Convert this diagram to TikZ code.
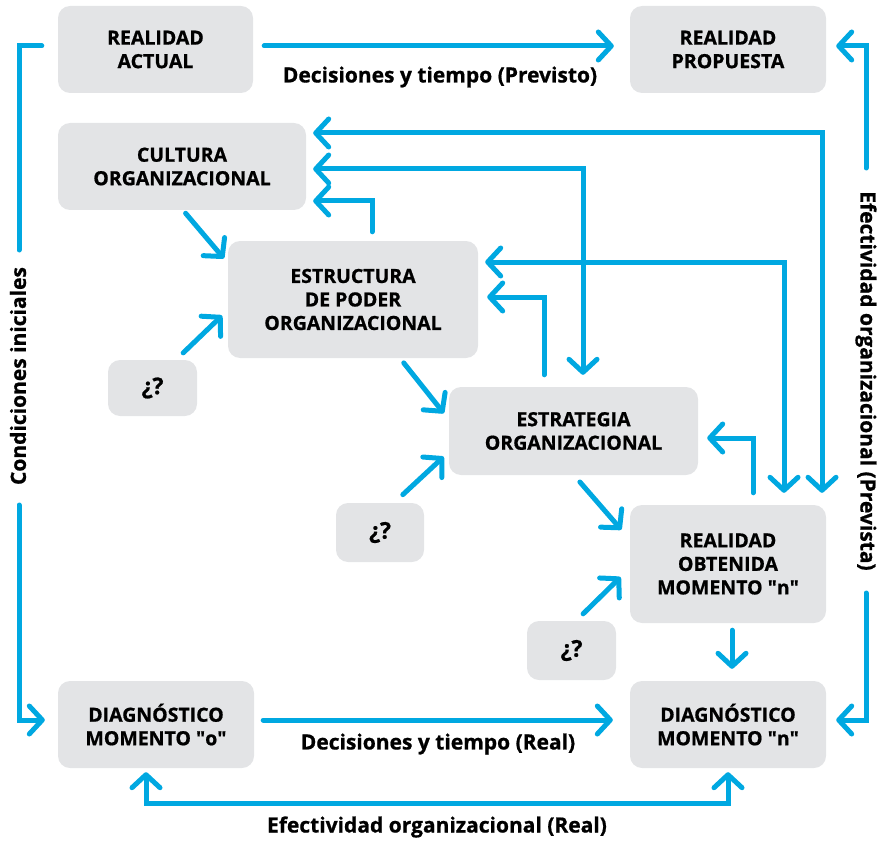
\documentclass[tikz,border=0pt]{standalone}
\usepackage{fontspec}
\setmainfont{Open Sans}[BoldFeatures={FakeBold=0.8}]
\usetikzlibrary{arrows.meta}
\definecolor{flowc}{HTML}{00A8E1}
\definecolor{boxgray}{HTML}{E3E4E6}
\newcommand{\dq}{\textquotedbl}

\begin{document}
\begin{tikzpicture}[x=1pt,y=-1pt,
  box/.style={fill=boxgray, rounded corners=12pt, inner sep=0pt, align=center,
    font=\fontsize{19.5}{23.5}\selectfont\bfseries},
  qbox/.style={box, font=\fontsize{23}{26}\selectfont\bfseries},
  lbl/.style={font=\fontsize{21}{24}\selectfont\bfseries, inner sep=0pt},
  flow/.style={draw=flowc, line width=5pt, line cap=round, line join=miter},
  arr/.style={flow, -{Straight Barb[length=13pt,width=28pt,round]}},
  biarr/.style={flow, {Straight Barb[length=13pt,width=28pt,round]}-{Straight Barb[length=13pt,width=28pt,round]}}]

\useasboundingbox (0,0) rectangle (877,842);

% boxes
\node[box, minimum width=195pt, minimum height=87pt] (ra) at (155.5,49.5) {REALIDAD\\ACTUAL};
\node[box, minimum width=196pt, minimum height=87pt] (rp) at (728,49.5) {REALIDAD\\PROPUESTA};
\node[box, minimum width=248pt, minimum height=87pt] (cult) at (182,166.5) {CULTURA\\ORGANIZACIONAL};
\node[box, minimum width=250pt, minimum height=117pt] (estr) at (353,299.5) {ESTRUCTURA\\DE PODER\\ORGANIZACIONAL};
\node[qbox, minimum width=89pt, minimum height=56pt] (q1) at (152.5,388) {¿?};
\node[box, minimum width=249pt, minimum height=88pt] (estg) at (573.5,431) {ESTRATEGIA\\ORGANIZACIONAL};
\node[qbox, minimum width=88pt, minimum height=59pt] (q2) at (380,532.5) {¿?};
\node[box, minimum width=196pt, minimum height=118pt] (ro) at (728,564) {REALIDAD\\OBTENIDA\\MOMENTO \dq n\dq};
\node[qbox, minimum width=89pt, minimum height=59pt] (q3) at (571.5,650.5) {¿?};
\node[box, minimum width=196pt, minimum height=87pt] (d0) at (156,724.5) {DIAGNÓSTICO\\MOMENTO \dq o\dq};
\node[box, minimum width=196pt, minimum height=87pt] (dn) at (728,724.5) {DIAGNÓSTICO\\MOMENTO \dq n\dq};

% labels
\node[lbl] (lprev) at (440,77) {Decisiones y tiempo (Previsto)};
\node[lbl] (lreal) at (438,744) {Decisiones y tiempo (Real)};
\node[lbl] (lefr) at (437,827) {Efectividad organizacional (Real)};
\node[lbl, rotate=90] (lcond) at (18,376) {Condiciones iniciales};
\node[lbl, rotate=-90] (lefp) at (866,381) {Efectividad organizacional (Prevista)};

% planned and real decision flows
\draw[arr, shorten <=11pt, shorten >=16pt] (ra.east |- 0,46) -- (rp.west |- 0,46);
\draw[arr, shorten <=9pt, shorten >=17pt] (d0.east |- 0,720) -- (dn.west |- 0,720);

% initial conditions
\draw[flow, shorten <=16pt] (ra.west |- 0,46) -- (19,46) -- (19,250);
\draw[arr, shorten >=13pt] (19,505) -- (19,720) -- (d0.west |- 0,720);

% planned effectiveness
\draw[arr, shorten >=10pt] (866,168) -- (866,46) -- (rp.east |- 0,46);
\draw[arr, shorten >=10pt] (866,593) -- (866,720) -- (dn.east |- 0,720);

% real effectiveness
\draw[biarr, shorten <=4pt, shorten >=4pt] (d0.south -| 146,0) -- (146,803) -- (728,803) -- (dn.south);

% obtained reality to diagnosis
\draw[arr, shorten <=7pt, shorten >=12pt] (ro.south -| 732,0) -- (dn.north -| 732,0);

% feedback loops
\draw[biarr, shorten <=7pt, shorten >=12pt] (cult.east |- 0,133) -- (822,133) -- (ro.north -| 822,0);
\draw[biarr, shorten <=7pt, shorten >=12pt] (cult.east |- 0,169) -- (583,169) -- (estg.north -| 583,0);
\draw[arr, shorten <=9pt, shorten >=7pt] (estr.north -| 372,0) -- (372,201) -- (cult.east |- 0,201);
\draw[biarr, shorten <=7pt, shorten >=12pt] (estr.east |- 0,262) -- (784,262) -- (ro.north -| 784,0);
\draw[arr, shorten <=12pt, shorten >=9pt] (estg.north -| 544,0) -- (544,297) -- (estr.east |- 0,297);
\draw[arr, shorten <=12pt, shorten >=9pt] (ro.north -| 753,0) -- (753,438) -- (estg.east |- 0,438);

% diagonal influences
\draw[arr, shorten <=4pt, shorten >=6pt] (cult.south -| 183,0) -- (estr.west |- 0,263);
\draw[arr, shorten <=10pt, shorten >=8pt] (q1.north -| 176,0) -- (estr.west |- 0,310);
\draw[arr, shorten <=6pt, shorten >=8pt] (estr.south -| 400,0) -- (estg.west |- 0,419.5);
\draw[arr, shorten <=12pt, shorten >=7pt] (q2.north -| 394,0) -- (estg.west |- 0,452);
\draw[arr, shorten <=9pt, shorten >=13pt] (estg.south -| 574,0) -- (ro.west |- 0,539.5);
\draw[arr, shorten <=10pt, shorten >=13pt] (q3.north -| 576,0) -- (ro.west |- 0,568);
\end{tikzpicture}
\end{document}
